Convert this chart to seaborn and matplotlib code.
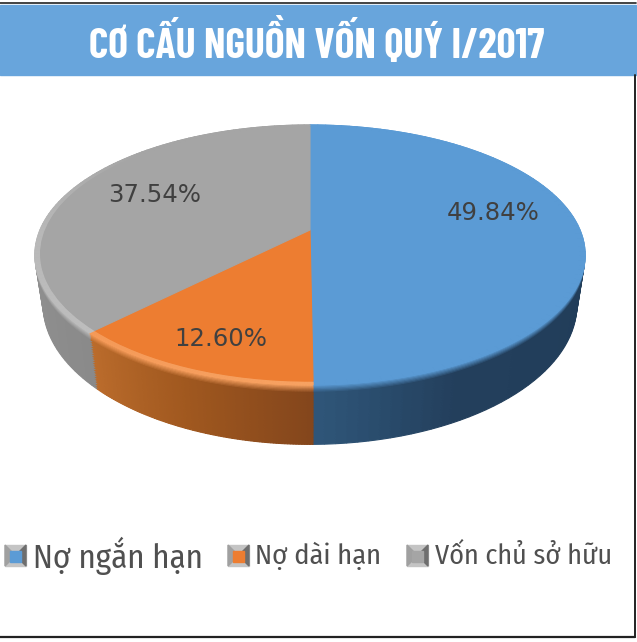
# Cơ cấu nguồn vốn - 3D style pie

import numpy as np
import matplotlib
matplotlib.use("Agg")
import matplotlib.pyplot as plt
import matplotlib.transforms as mtransforms
from matplotlib.patches import Rectangle, Polygon
import seaborn as sns

categories = ["Nợ ngắn hạn", "Nợ dài hạn", "Vốn chủ sở hữu"]
shares = [49.84, 12.60, 37.54]
share_labels = ["49.84%", "12.60%", "37.54%"]
title_text = "CƠ CẤU NGUỒN VỐN QUÝ I/2017"

sns.set_theme(style="white")

face_colors = sns.color_palette(["#5b9bd5", "#ed7d31", "#a5a5a5"])
side_ramps = [["#1f3a55", "#1f3a55", "#203b57", "#203c58", "#213d59", "#223e5b", "#233f5c", "#2f5578"],
              ["#84461c", "#a0581f", "#bb6c2c"],
              ["#8a8a8a", "#979797", "#a3a3a3"]]


# Tilted view of the unit pie, in picture pixels
class TiltTransform(mtransforms.Transform):
    input_dims = 2
    output_dims = 2

    def __init__(self, drop=0.0):
        super().__init__()
        self.drop = drop

    def transform_non_affine(self, values):
        values = np.asarray(values)
        w = 1 + 0.192 * values[:, 1]
        shrink = 1 - 0.03 * self.drop / 48
        return np.column_stack([310 + 270 * shrink * values[:, 0] / w,
                                230 - (125.2 * values[:, 1] - self.drop) / w])


fig = plt.figure(figsize=(6.37, 6.42), dpi=100)
ax = fig.add_axes([0, 0, 1, 1])


def draw_pie(vals, colors, drop, radius, z):
    wedges, _ = ax.pie(vals, colors=colors, startangle=90, counterclock=False, radius=radius)
    tr = TiltTransform(drop) + ax.transData
    for w in wedges:
        w.set_transform(tr)
        w.set_zorder(z)
        w.set_edgecolor(w.get_facecolor())
        w.set_linewidth(0.8)


# side wall, drawn as stacked layers from the bottom up
n_parts = 90
side_vals = np.repeat(np.array(shares) / n_parts, n_parts)
side_cols = []
for ramp in side_ramps:
    side_cols += sns.blend_palette(ramp, n_parts)
depth = 48
for i, drop in enumerate(np.arange(depth, 5, -2)):
    draw_pie(side_vals, side_cols, drop, 1.0, 2 + i * 0.01)

# bevel: only the orange slice and the lower part of the grey one catch light
rim_cols = (sns.blend_palette(["#5b9bd5", "#5b9bd5"], n_parts)
            + sns.blend_palette(["#f7a262", "#f59a58"], n_parts)
            + sns.blend_palette(["#bdbdbd", "#b8b8b8", "#a5a5a5", "#a5a5a5"], n_parts))
for i, drop in enumerate([5, 4, 3, 2, 1, 0]):
    mix = (i + 1) / 6
    cols = [tuple(np.array(c) * (1 - mix) + np.array(r) * mix)
            for c, r in zip(side_cols, rim_cols)]
    draw_pie(side_vals, cols, drop, 1.0, 3 + i * 0.01)

draw_pie(side_vals, rim_cols, 0, 1.0, 4)
draw_pie(shares, face_colors, 0, 0.98, 5)

ax.set_aspect("auto")
ax.set_xlim(0, 637)
ax.set_ylim(642, 0)
ax.axis("off")

# slice labels
label_pos = [(493, 213), (221, 339), (155, 195)]
for lab, (x, y) in zip(share_labels, label_pos):
    ax.text(x, y, lab, color="#404040", fontsize=17.6, ha="center", va="center", zorder=10)

# header band and frame
ax.add_patch(Rectangle((0, 5), 636, 70, color="#68a5dc", zorder=6))
ax.plot([0, 636], [3, 3], color="#222222", lw=1.2, zorder=7)
ax.plot([634.5, 634.5], [75, 637], color="#222222", lw=1.4, zorder=7)
ax.plot([0, 635], [637, 637], color="#222222", lw=1.6, zorder=7)
ax.text(317, 43, title_text, color="white", fontsize=30, fontweight="bold",
        family=["Barlow Condensed", "Roboto Condensed", "Open Sans"], ha="center", va="center", zorder=8)

# legend
legend_x = [(5, 33, 23.7), (228, 255, 20.5), (407, 435, 20.2)]
for k, (sx, tx, fs) in enumerate(legend_x):
    s = 21
    y0, y1 = 545, 566
    ax.add_patch(Rectangle((sx, y0), s, y1 - y0, color="#c4c4c4", zorder=6))
    ax.add_patch(Polygon([(sx + s, y0), (sx + s, y1), (sx + s / 2, (y0 + y1) / 2)], color="#6e6e6e", zorder=7))
    ax.add_patch(Polygon([(sx, y0), (sx, y1), (sx + s / 2, (y0 + y1) / 2)], color="#a0a0a0", zorder=7))
    ax.add_patch(Rectangle((sx + 5, y0 + 6), s - 10, y1 - y0 - 10, color=face_colors[k], zorder=8))
    ax.text(tx, 556, categories[k], color="#505050", fontsize=fs,
            family=["Fira Sans Condensed", "Open Sans"], ha="left", va="center", zorder=8)

fig.savefig("out.png", dpi=100)
